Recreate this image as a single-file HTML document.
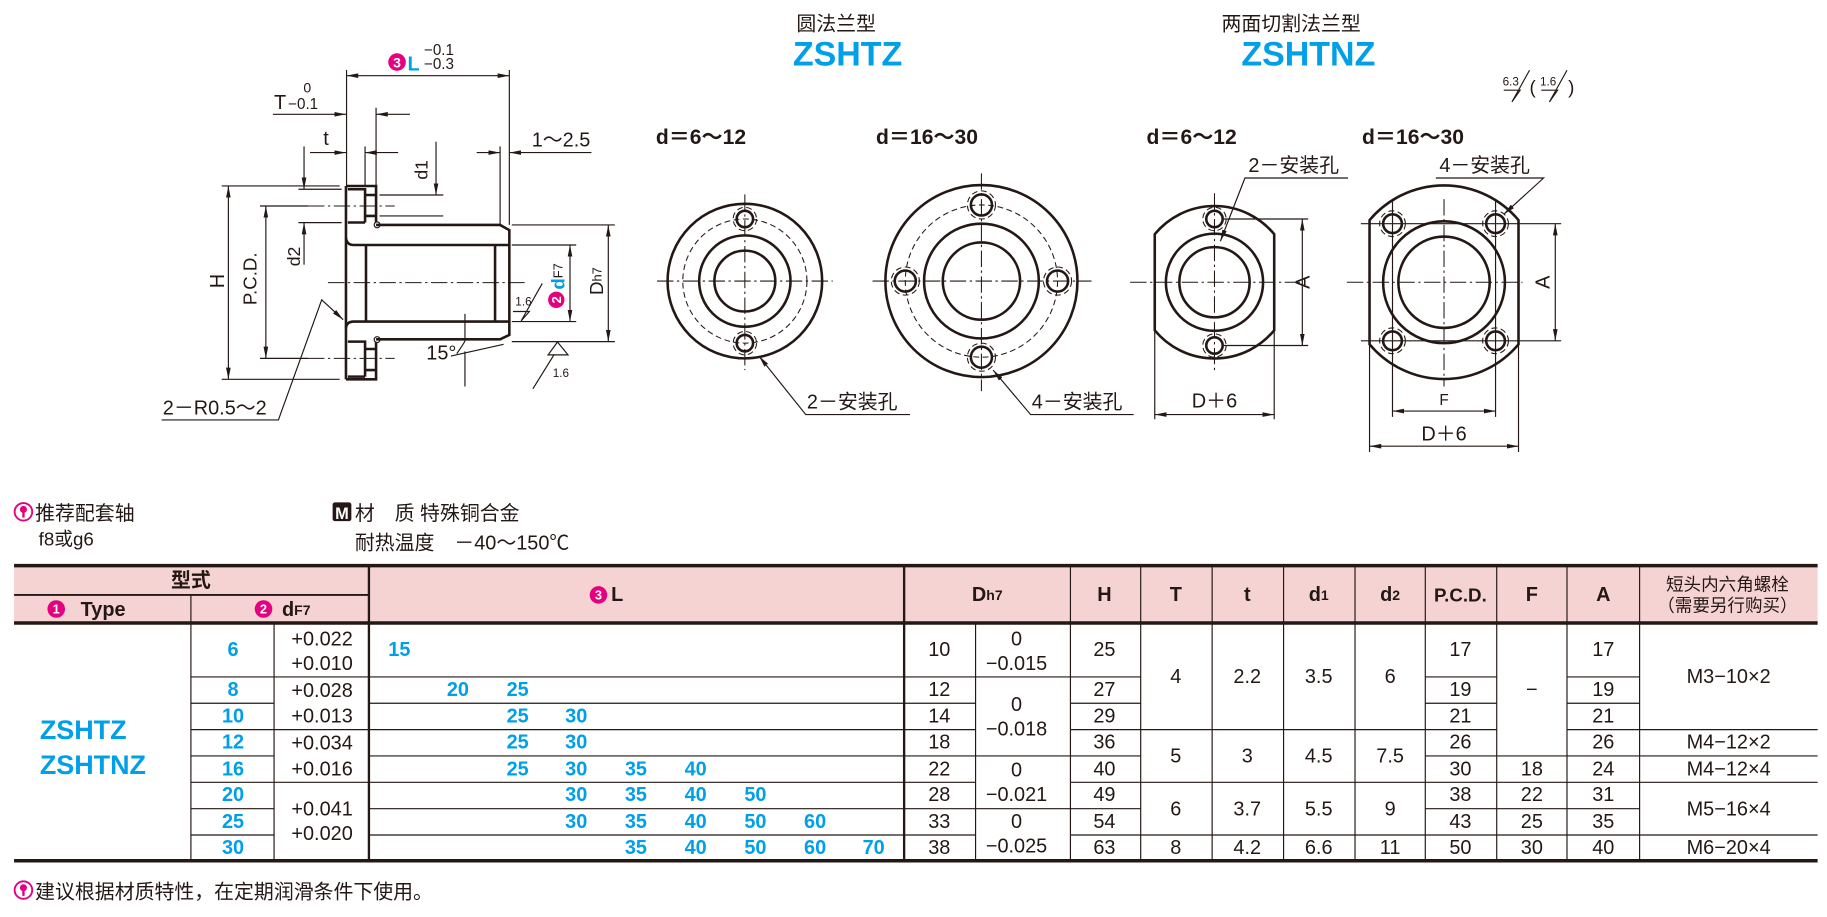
<!DOCTYPE html>
<html><head><meta charset="utf-8"><style>
html,body{margin:0;padding:0;background:#fff;width:1827px;height:917px;overflow:hidden}
svg{display:block}
text{font-family:"Liberation Sans Narrow","Liberation Sans","Noto Sans CJK SC",sans-serif;fill:#231815}
.cj{font-family:"Liberation Sans","Noto Sans CJK SC",sans-serif}
.b{font-weight:bold}
.bl,.bl text,text.bl,tspan.bl{fill:#00a0e9;font-weight:bold;font-family:"Liberation Sans","Noto Sans CJK SC",sans-serif}
.v{font-size:17px}
.ln{stroke:#231815;stroke-width:1;fill:none}
.th{stroke:#231815;stroke-width:2.2;fill:none}
.cl{stroke:#231815;stroke-width:0.9;fill:none;stroke-dasharray:14 3 2 3}
.ds{stroke:#231815;stroke-width:0.9;fill:none;stroke-dasharray:5 3}
</style></head><body>
<svg width="1827" height="917" viewBox="0 0 1560 783" xmlns="http://www.w3.org/2000/svg">
<defs>
<marker id="ar" viewBox="0 0 10 4" refX="10" refY="2" markerWidth="10" markerHeight="4" markerUnits="userSpaceOnUse" orient="auto-start-reverse"><path d="M0,0 L10,2 L0,4 z" fill="#231815"/></marker>
</defs>

<!-- ===== Titles ===== -->
<text x="680" y="26" class="cj" font-size="17">圆法兰型</text>
<text x="677" y="56" class="bl" font-size="29">ZSHTZ</text>
<text x="1043" y="26" class="cj" font-size="17">两面切割法兰型</text>
<text x="1060" y="56" class="bl" font-size="29">ZSHTNZ</text>
<text x="560" y="123" class="cj b" font-size="18">d＝6～12</text>
<text x="748" y="123" class="cj b" font-size="18">d＝16～30</text>
<text x="979" y="123" class="cj b" font-size="18">d＝6～12</text>
<text x="1163" y="123" class="cj b" font-size="18">d＝16～30</text>

<!-- roughness top right -->
<text x="1283" y="73" font-size="10">6.3</text>
<path class="ln" d="M1284,77 L1298,77 L1291,87 L1306,60"/>
<text x="1306" y="80" font-size="16">(</text>
<text x="1315" y="73" font-size="10">1.6</text>
<path class="ln" d="M1316,77 L1330,77 L1323,87 L1338,60"/>
<text x="1339" y="80" font-size="16">)</text>

<!-- ===== View 1 ===== -->
<g>
<circle cx="636" cy="240" r="66" class="th"/>
<circle cx="636" cy="240" r="53" class="ds"/>
<circle cx="636" cy="240" r="39" class="th"/>
<circle cx="636" cy="240" r="26" class="th"/>
<circle cx="636" cy="187" r="7" class="th" stroke-width="1.6"/>
<circle cx="636" cy="187" r="10" class="ds"/>
<circle cx="636" cy="293" r="7" class="th" stroke-width="1.6"/>
<circle cx="636" cy="293" r="10" class="ds"/>
<line x1="561" y1="240" x2="711" y2="240" class="cl"/>
<line x1="636" y1="166" x2="636" y2="316" class="cl"/>
<path class="ln" d="M648,304 L688,354 L777,354" marker-start="url(#ar)"/>
<text x="689" y="349" class="cj" font-size="17">2－安装孔</text>
</g>

<!-- ===== View 2 ===== -->
<g>
<circle cx="838" cy="240" r="82" class="th"/>
<circle cx="838" cy="240" r="65" class="ds"/>
<circle cx="838" cy="240" r="49" class="th"/>
<circle cx="838" cy="240" r="33" class="th"/>
<circle cx="838" cy="175" r="9" class="th" stroke-width="1.6"/><circle cx="838" cy="175" r="12" class="ds"/>
<circle cx="838" cy="305" r="9" class="th" stroke-width="1.6"/><circle cx="838" cy="305" r="12" class="ds"/>
<circle cx="773" cy="240" r="9" class="th" stroke-width="1.6"/><circle cx="773" cy="240" r="12" class="ds"/>
<circle cx="903" cy="240" r="9" class="th" stroke-width="1.6"/><circle cx="903" cy="240" r="12" class="ds"/>
<line x1="745" y1="240" x2="932" y2="240" class="cl"/>
<line x1="838" y1="148" x2="838" y2="334" class="cl"/>
<path class="ln" d="M848,316 L880,354 L968,354" marker-start="url(#ar)"/>
<text x="881" y="349" class="cj" font-size="17">4－安装孔</text>
</g>

<!-- ===== View 3 ===== -->
<g>
<path class="th" d="M986,200 L986,282 A66,66 0 0 0 1088,282 L1088,200 A66,66 0 0 0 986,200 Z"/>
<circle cx="1037" cy="241" r="41.5" class="th"/>
<circle cx="1037" cy="241" r="30" class="th"/>
<circle cx="1037" cy="187" r="7" class="th" stroke-width="1.6"/><circle cx="1037" cy="187" r="10" class="ds"/>
<circle cx="1037" cy="295" r="7" class="th" stroke-width="1.6"/><circle cx="1037" cy="295" r="10" class="ds"/>
<line x1="965" y1="241" x2="1110" y2="241" class="cl"/>
<line x1="1037" y1="165" x2="1037" y2="318" class="cl"/>
<line x1="1045" y1="187" x2="1117" y2="187" class="ln"/>
<line x1="1045" y1="295" x2="1117" y2="295" class="ln"/>
<line x1="1112" y1="187" x2="1112" y2="295" class="ln" marker-start="url(#ar)" marker-end="url(#ar)"/>
<text x="1113" y="241" font-size="17" text-anchor="middle" transform="rotate(-90 1113 241)" dominant-baseline="central" class="cj">A</text>
<line x1="986" y1="282" x2="986" y2="358" class="ln"/>
<line x1="1088" y1="282" x2="1088" y2="358" class="ln"/>
<line x1="986" y1="354" x2="1088" y2="354" class="ln" marker-start="url(#ar)" marker-end="url(#ar)"/>
<text x="1037" y="348" font-size="17" text-anchor="middle" class="cj">D＋6</text>
<path class="ln" d="M1042,206 L1063,152 L1151,152" marker-start="url(#ar)"/>
<text x="1066" y="147" class="cj" font-size="17">2－安装孔</text>
</g>

<!-- ===== View 4 ===== -->
<g>
<path class="th" d="M1169.4,188 L1169.4,294 A83,83 0 0 0 1296.6,294 L1296.6,188 A83,83 0 0 0 1169.4,188 Z"/>
<circle cx="1233" cy="241" r="52" class="th"/>
<circle cx="1233" cy="241" r="39" class="th"/>
<circle cx="1189" cy="191" r="8" class="th" stroke-width="1.6"/><circle cx="1189" cy="191" r="11" class="ds"/>
<circle cx="1277" cy="191" r="8" class="th" stroke-width="1.6"/><circle cx="1277" cy="191" r="11" class="ds"/>
<circle cx="1189" cy="291" r="8" class="th" stroke-width="1.6"/><circle cx="1189" cy="291" r="11" class="ds"/>
<circle cx="1277" cy="291" r="8" class="th" stroke-width="1.6"/><circle cx="1277" cy="291" r="11" class="ds"/>
<line x1="1150" y1="241" x2="1300" y2="241" class="cl"/>
<line x1="1233" y1="170" x2="1233" y2="330" class="cl"/>
<line x1="1189" y1="170" x2="1189" y2="356" class="ln"/>
<line x1="1277" y1="170" x2="1277" y2="356" class="ln"/>
<line x1="1162" y1="191" x2="1333" y2="191" class="ln"/>
<line x1="1162" y1="291" x2="1333" y2="291" class="ln"/>
<line x1="1328" y1="191" x2="1328" y2="291" class="ln" marker-start="url(#ar)" marker-end="url(#ar)"/>
<text x="1318" y="241" font-size="17" text-anchor="middle" transform="rotate(-90 1318 241)" dominant-baseline="central" class="cj">A</text>
<line x1="1189" y1="351" x2="1277" y2="351" class="ln" marker-start="url(#ar)" marker-end="url(#ar)"/>
<text x="1233" y="346" font-size="13" text-anchor="middle" class="cj">F</text>
<line x1="1169.4" y1="294" x2="1169.4" y2="386" class="ln"/>
<line x1="1296.6" y1="294" x2="1296.6" y2="386" class="ln"/>
<line x1="1169.4" y1="381" x2="1296.6" y2="381" class="ln" marker-start="url(#ar)" marker-end="url(#ar)"/>
<text x="1233" y="376" font-size="17" text-anchor="middle" class="cj">D＋6</text>
<path class="ln" d="M1284,183 L1318,152 L1226,152" marker-start="url(#ar)"/>
<text x="1229" y="147" class="cj" font-size="17">4－安装孔</text>
</g>

<!-- ===== Side view ===== -->
<g>
<path class="th" d="M295.4,158.8 L321.1,158.8 L321.1,190"/>
<path class="th" d="M321.1,192.1 L427,192.1 L434.9,196.5 L434.9,286 L427,289.7 L321.1,289.7"/>
<path class="th" d="M321.1,292 L321.1,323.9 L295.4,323.9"/>
<path class="th" d="M295.4,158.8 L295.4,323.9"/>
<!-- counterbores -->
<path class="th" d="M297,161.6 L311.7,161.6 L311.7,190 M311.7,166.5 L321,166.5 M311.7,184.4 L321,184.4 M297,190 L311.7,190"/>
<path class="th" d="M297,291.7 L311.7,291.7 L311.7,321.6 M311.7,298 L321,298 M311.7,316 L321,316 M297,321.6 L311.7,321.6"/>
<!-- groove -->
<circle cx="322" cy="192" r="2.5" class="ln" stroke-width="1.5"/>
<circle cx="322" cy="290" r="2.5" class="ln" stroke-width="1.5"/>
<!-- bore -->
<path class="th" d="M295.4,203 Q296,209.2 302,209.2 L434.9,209.2 M295.4,280 Q296,274.6 302,274.6 L434.9,274.6"/>
<line x1="312.5" y1="209.2" x2="312.5" y2="274.6" class="th"/>
<line x1="422.7" y1="209.2" x2="422.7" y2="274.6" class="th"/>
<line x1="280" y1="241.3" x2="451" y2="241.3" class="cl"/>
<line x1="263" y1="175.9" x2="337" y2="175.9" class="cl"/>
<line x1="263" y1="306" x2="337" y2="306" class="cl"/>
<!-- L dim -->
<line x1="295.9" y1="59.8" x2="295.9" y2="158" class="ln"/>
<line x1="434.9" y1="59.8" x2="434.9" y2="192" class="ln"/>
<line x1="295.9" y1="64.6" x2="434.9" y2="64.6" class="ln" marker-start="url(#ar)" marker-end="url(#ar)"/>
<circle cx="339" cy="53" r="7.5" fill="#e4007f"/>
<text x="339" y="57.5" font-size="12" style="fill:#fff" text-anchor="middle" class="b">3</text>
<text x="348" y="60" class="bl" font-size="17">L</text>
<text x="362" y="47" font-size="13">−0.1</text>
<text x="362" y="59" font-size="13">−0.3</text>
<!-- T dim -->
<line x1="321.1" y1="92" x2="321.1" y2="158" class="ln"/>
<line x1="233" y1="97.6" x2="295.4" y2="97.6" class="ln" marker-end="url(#ar)"/>
<line x1="350" y1="97.6" x2="321.1" y2="97.6" class="ln" marker-end="url(#ar)"/>
<text x="234" y="93" font-size="17" class="cj">T</text>
<text x="259" y="79" font-size="12">0</text>
<text x="246" y="93" font-size="13">−0.1</text>
<!-- t dim -->
<line x1="311.7" y1="125" x2="311.7" y2="158" class="ln"/>
<line x1="264.7" y1="130.3" x2="295.4" y2="130.3" class="ln" marker-end="url(#ar)"/>
<line x1="340" y1="130.3" x2="311.7" y2="130.3" class="ln" marker-end="url(#ar)"/>
<text x="276" y="124" font-size="17" class="cj">t</text>
<!-- 1~2.5 -->
<line x1="427" y1="125" x2="427" y2="192" class="ln"/>
<line x1="407" y1="130.3" x2="427" y2="130.3" class="ln" marker-end="url(#ar)"/>
<line x1="505" y1="130.3" x2="434.9" y2="130.3" class="ln" marker-end="url(#ar)"/>
<text x="454" y="125" font-size="17" class="cj">1～2.5</text>
<!-- d1 -->
<line x1="324" y1="166.5" x2="378.5" y2="166.5" class="ln"/>
<line x1="324" y1="184.4" x2="378.5" y2="184.4" class="ln"/>
<line x1="372.3" y1="121" x2="372.3" y2="166.5" class="ln" marker-end="url(#ar)"/>
<text x="360" y="145" font-size="15" text-anchor="middle" dominant-baseline="central" transform="rotate(-90 360 145)">d1</text>
<!-- d2 -->
<line x1="254.8" y1="161.6" x2="291.7" y2="161.6" class="ln"/>
<line x1="254.8" y1="190.1" x2="291.7" y2="190.1" class="ln"/>
<line x1="259.6" y1="125" x2="259.6" y2="161.6" class="ln" marker-end="url(#ar)"/>
<line x1="259.6" y1="226" x2="259.6" y2="190.1" class="ln" marker-end="url(#ar)"/>
<text x="251" y="219" font-size="15" text-anchor="middle" dominant-baseline="central" transform="rotate(-90 251 219)">d2</text>
<!-- H -->
<line x1="189.3" y1="158.8" x2="290" y2="158.8" class="ln"/>
<line x1="189.3" y1="323.9" x2="290" y2="323.9" class="ln"/>
<line x1="195" y1="158.8" x2="195" y2="323.9" class="ln" marker-start="url(#ar)" marker-end="url(#ar)"/>
<text x="186" y="240" font-size="17" text-anchor="middle" dominant-baseline="central" transform="rotate(-90 186 240)" class="cj">H</text>
<!-- PCD -->
<line x1="222" y1="175.9" x2="263" y2="175.9" class="ln"/>
<line x1="222" y1="306" x2="263" y2="306" class="ln"/>
<line x1="227" y1="175.9" x2="227" y2="306" class="ln" marker-start="url(#ar)" marker-end="url(#ar)"/>
<text x="213.5" y="238" font-size="16" text-anchor="middle" dominant-baseline="central" transform="rotate(-90 213.5 238)">P.C.D.</text>
<!-- Dh7 -->
<line x1="437" y1="192.1" x2="525" y2="192.1" class="ln"/>
<line x1="437" y1="291.7" x2="525" y2="291.7" class="ln"/>
<line x1="519.4" y1="192.1" x2="519.4" y2="291.7" class="ln" marker-start="url(#ar)" marker-end="url(#ar)"/>
<text x="509.5" y="240" font-size="16" text-anchor="middle" dominant-baseline="central" transform="rotate(-90 509.5 240)">D<tspan font-size="11">h7</tspan></text>
<!-- dF7 -->
<line x1="437" y1="209.2" x2="492" y2="209.2" class="ln"/>
<line x1="437" y1="274.6" x2="492" y2="274.6" class="ln"/>
<line x1="486.7" y1="209.2" x2="486.7" y2="274.6" class="ln" marker-start="url(#ar)" marker-end="url(#ar)"/>
<circle cx="475" cy="256" r="7" fill="#e4007f"/>
<text x="475" y="256" font-size="11" text-anchor="middle" dominant-baseline="central" transform="rotate(-90 475 256)" style="fill:#fff" class="b">2</text>
<text x="476" y="236" font-size="16" dominant-baseline="central" text-anchor="middle" transform="rotate(-90 476 236)"><tspan class="bl">d</tspan><tspan font-size="11">F7</tspan></text>
<!-- roughness -->
<text x="440" y="261" font-size="10">1.6</text>
<path class="ln" d="M438,266 L452,266 L445,274 L463,242"/>
<path class="ln" d="M468,303 L485,303 L476,292 Z"/>
<line x1="473" y1="303" x2="455" y2="332" class="ln"/>
<text x="472" y="322" font-size="10">1.6</text>
<!-- 15° -->
<text x="364" y="307" font-size="17" class="cj">15°</text>
<path class="ln" d="M397,268 L397,291 M390,302 Q397,292 397,291 M397,300 L397,330 M385,304 L430,294"/>
<!-- R -->
<path class="ln" d="M138,358.6 L237.7,358.6 L274.7,256 L293,273" marker-end="url(#ar)"/>
<text x="139" y="354" font-size="17" class="cj">2－R0.5～2</text>
</g>

<!-- ===== Notes ===== -->
<circle cx="20" cy="437" r="7.5" fill="none" stroke="#e4007f" stroke-width="1.6"/>
<circle cx="20" cy="435" r="3" fill="#e4007f"/><rect x="19" y="437" width="2" height="5" fill="#e4007f"/>
<text x="30" y="444" class="cj" font-size="17">推荐配套轴</text>
<text x="33" y="466" class="cj" font-size="16">f8或g6</text>
<rect x="284" y="429" width="16" height="16" fill="#231815" rx="2"/>
<text x="292" y="443" font-size="14" text-anchor="middle" style="fill:#fff" class="b">M</text>
<text x="303" y="444" class="cj" font-size="17">材　质 特殊铜合金</text>
<text x="303" y="469" class="cj" font-size="17">耐热温度　－40～150℃</text>

<!-- ===== Table ===== -->
<rect x="12" y="483" width="1540" height="49" fill="#f6d3d3"/>
<g class="ln">
<line x1="12" y1="508" x2="315" y2="508" stroke-width="1.5"/>
<line x1="163" y1="508" x2="163" y2="735"/>
<line x1="234" y1="532" x2="234" y2="735"/>
<line x1="315" y1="483" x2="315" y2="735" stroke-width="2"/>
<line x1="772" y1="483" x2="772" y2="735" stroke-width="2"/>
<line x1="833" y1="532" x2="833" y2="735"/>
<line x1="914" y1="483" x2="914" y2="735"/>
<line x1="974" y1="483" x2="974" y2="735"/>
<line x1="1035" y1="483" x2="1035" y2="735"/>
<line x1="1096" y1="483" x2="1096" y2="735"/>
<line x1="1157" y1="483" x2="1157" y2="735"/>
<line x1="1217" y1="483" x2="1217" y2="735"/>
<line x1="1278" y1="483" x2="1278" y2="735"/>
<line x1="1338" y1="483" x2="1338" y2="735"/>
<line x1="1400" y1="483" x2="1400" y2="735"/>
<path d="M163,578H234M163,600.5H234M163,623H234M163,645.5H234M163,668H234M163,690.5H234M163,713H234"/>
<path d="M234,578H315M234,623H315M234,668H315"/>
<path d="M315,578H772M315,600.5H772M315,623H772M315,645.5H772M315,668H772M315,690.5H772M315,713H772"/>
<path d="M772,578H833M772,600.5H833M772,623H833M772,645.5H833M772,668H833M772,690.5H833M772,713H833"/>
<path d="M833,578H914M833,645.5H914M833,690.5H914"/>
<path d="M914,578H974M914,600.5H974M914,623H974M914,645.5H974M914,668H974M914,690.5H974M914,713H974"/>
<path d="M974,623H1217M974,668H1217M974,713H1217"/>
<path d="M1217,578H1278M1217,600.5H1278M1217,623H1278M1217,645.5H1278M1217,668H1278M1217,690.5H1278M1217,713H1278"/>
<path d="M1278,645.5H1338M1278,668H1338M1278,690.5H1338M1278,713H1338"/>
<path d="M1338,578H1400M1338,600.5H1400M1338,623H1400M1338,645.5H1400M1338,668H1400M1338,690.5H1400M1338,713H1400"/>
<path d="M1400,623H1552M1400,645.5H1552M1400,668H1552M1400,713H1552"/>
</g>
<line x1="12" y1="483" x2="1552" y2="483" stroke="#231815" stroke-width="3"/>
<line x1="12" y1="532" x2="1552" y2="532" stroke="#231815" stroke-width="3"/>
<line x1="12" y1="735" x2="1552" y2="735" stroke="#231815" stroke-width="3"/>

<!-- header text -->
<g font-size="17" class="b" text-anchor="middle" dominant-baseline="central">
<text x="163" y="496" class="cj">型式</text>
<circle cx="48" cy="520" r="7.5" fill="#e4007f"/>
<text x="48" y="520" font-size="11" style="fill:#fff">1</text>
<text x="88" y="521" class="cj">Type</text>
<circle cx="225" cy="520" r="7.5" fill="#e4007f"/>
<text x="225" y="520" font-size="11" style="fill:#fff">2</text>
<text x="253" y="521" class="cj">d<tspan font-size="12">F7</tspan></text>
<circle cx="511" cy="508" r="7.5" fill="#e4007f"/>
<text x="511" y="508" font-size="11" style="fill:#fff">3</text>
<text x="527" y="508" class="cj">L</text>
<text x="843" y="508" class="cj">D<tspan font-size="12">h7</tspan></text>
<text x="943" y="508" class="cj">H</text>
<text x="1004" y="508" class="cj">T</text>
<text x="1065" y="508" class="cj">t</text>
<text x="1126" y="508" class="cj">d<tspan font-size="12">1</tspan></text>
<text x="1187" y="508" class="cj">d<tspan font-size="12">2</tspan></text>
<text x="1247" y="508" class="cj" font-size="16">P.C.D.</text>
<text x="1308" y="508" class="cj">F</text>
<text x="1369" y="508" class="cj">A</text>
<text x="1475" y="499" class="cj" font-weight="normal" font-size="15">短头内六角螺栓</text>
<text x="1475" y="517" class="cj" font-weight="normal" font-size="15">（需要另行购买）</text>
</g>

<!-- type -->
<text x="34" y="631" class="bl" font-size="23">ZSHTZ</text>
<text x="34" y="661" class="bl" font-size="23">ZSHTNZ</text>

<g class="v" text-anchor="middle" dominant-baseline="central">
<g class="bl" font-size="17">
<text x="199" y="555">6</text><text x="199" y="589">8</text><text x="199" y="612">10</text><text x="199" y="634">12</text>
<text x="199" y="657">16</text><text x="199" y="679">20</text><text x="199" y="702">25</text><text x="199" y="724">30</text>
<text x="341" y="555">15</text>
<text x="391" y="589">20</text><text x="442" y="589">25</text>
<text x="442" y="612">25</text><text x="492" y="612">30</text>
<text x="442" y="634">25</text><text x="492" y="634">30</text>
<text x="442" y="657">25</text><text x="492" y="657">30</text><text x="543" y="657">35</text><text x="594" y="657">40</text>
<text x="492" y="679">30</text><text x="543" y="679">35</text><text x="594" y="679">40</text><text x="645" y="679">50</text>
<text x="492" y="702">30</text><text x="543" y="702">35</text><text x="594" y="702">40</text><text x="645" y="702">50</text><text x="696" y="702">60</text>
<text x="543" y="724">35</text><text x="594" y="724">40</text><text x="645" y="724">50</text><text x="696" y="724">60</text><text x="746" y="724">70</text>
</g>
<text x="275" y="546">+0.022</text><text x="275" y="567">+0.010</text>
<text x="275" y="590">+0.028</text><text x="275" y="612">+0.013</text>
<text x="275" y="635">+0.034</text><text x="275" y="657">+0.016</text>
<text x="275" y="691">+0.041</text><text x="275" y="712">+0.020</text>
<text x="802" y="555">10</text><text x="802" y="589">12</text><text x="802" y="612">14</text><text x="802" y="634">18</text>
<text x="802" y="657">22</text><text x="802" y="679">28</text><text x="802" y="702">33</text><text x="802" y="724">38</text>
<text x="868" y="546">0</text><text x="868" y="567">−0.015</text>
<text x="868" y="602">0</text><text x="868" y="623">−0.018</text>
<text x="868" y="658">0</text><text x="868" y="679">−0.021</text>
<text x="868" y="702">0</text><text x="868" y="723">−0.025</text>
<text x="943" y="555">25</text><text x="943" y="589">27</text><text x="943" y="612">29</text><text x="943" y="634">36</text>
<text x="943" y="657">40</text><text x="943" y="679">49</text><text x="943" y="702">54</text><text x="943" y="724">63</text>
<text x="1004" y="578">4</text><text x="1004" y="646">5</text><text x="1004" y="691">6</text><text x="1004" y="724">8</text>
<text x="1065" y="578">2.2</text><text x="1065" y="646">3</text><text x="1065" y="691">3.7</text><text x="1065" y="724">4.2</text>
<text x="1126" y="578">3.5</text><text x="1126" y="646">4.5</text><text x="1126" y="691">5.5</text><text x="1126" y="724">6.6</text>
<text x="1187" y="578">6</text><text x="1187" y="646">7.5</text><text x="1187" y="691">9</text><text x="1187" y="724">11</text>
<text x="1247" y="555">17</text><text x="1247" y="589">19</text><text x="1247" y="612">21</text><text x="1247" y="634">26</text>
<text x="1247" y="657">30</text><text x="1247" y="679">38</text><text x="1247" y="702">43</text><text x="1247" y="724">50</text>
<text x="1308" y="589">−</text><text x="1308" y="657">18</text><text x="1308" y="679">22</text><text x="1308" y="702">25</text><text x="1308" y="724">30</text>
<text x="1369" y="555">17</text><text x="1369" y="589">19</text><text x="1369" y="612">21</text><text x="1369" y="634">26</text>
<text x="1369" y="657">24</text><text x="1369" y="679">31</text><text x="1369" y="702">35</text><text x="1369" y="724">40</text>
<text x="1476" y="578">M3−10×2</text><text x="1476" y="634">M4−12×2</text><text x="1476" y="657">M4−12×4</text>
<text x="1476" y="691">M5−16×4</text><text x="1476" y="724">M6−20×4</text>
</g>

<circle cx="20" cy="760" r="7.5" fill="none" stroke="#e4007f" stroke-width="1.6"/>
<circle cx="20" cy="758" r="3" fill="#e4007f"/><rect x="19" y="760" width="2" height="5" fill="#e4007f"/>
<text x="30" y="767" class="cj" font-size="17">建议根据材质特性，在定期润滑条件下使用。</text>
</svg>
</body></html>
